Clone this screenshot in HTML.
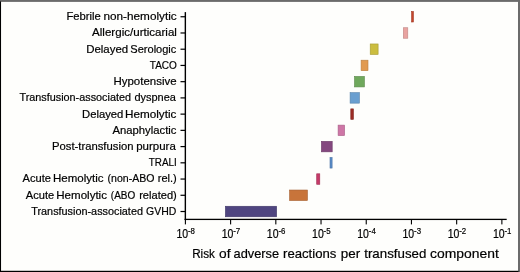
<!DOCTYPE html>
<html><head><meta charset="utf-8"><title>Risk of adverse reactions per transfused component</title>
<style>
html,body{margin:0;padding:0;background:#fefefc;}
body{width:520px;height:272px;overflow:hidden;}
svg{display:block;will-change:transform;}
text{font-family:"Liberation Sans",sans-serif;fill:#000;stroke:#000;stroke-width:0.2px;}
.yl{font-size:11.4px;}
.xl{font-size:12.0px;}
.sup{font-size:9.4px;}
.ttl{font-size:13.6px;}
</style></head><body>
<svg width="520" height="272" viewBox="0 0 520 272">
<rect x="0" y="0" width="520" height="272" fill="#fefefc"/>
<rect x="0" y="0" width="520" height="1.9" fill="#6b6b6b"/>
<rect x="518" y="0" width="2" height="272" fill="#6b6b6b"/>
<rect x="0" y="1.4" width="1.04" height="270.6" fill="#000"/>
<rect x="0" y="270.78" width="518.5" height="1.22" fill="#000"/>

<rect x="411.60" y="11.50" width="1.80" height="10.50" fill="#c5452b" stroke="#a13823" stroke-width="0.6"/>
<rect x="403.30" y="27.73" width="4.50" height="10.50" fill="#e9a3a0" stroke="#bf8583" stroke-width="0.6"/>
<rect x="370.20" y="43.96" width="7.90" height="10.50" fill="#cbbd3f" stroke="#a69a33" stroke-width="0.6"/>
<rect x="361.10" y="60.19" width="6.90" height="10.50" fill="#e19a50" stroke="#b87e41" stroke-width="0.6"/>
<rect x="354.50" y="76.42" width="9.90" height="10.50" fill="#6fa85c" stroke="#5b894b" stroke-width="0.6"/>
<rect x="350.10" y="92.65" width="9.30" height="10.50" fill="#6a9fd0" stroke="#5682aa" stroke-width="0.6"/>
<rect x="350.80" y="108.88" width="2.60" height="10.50" fill="#9c2c25" stroke="#7f241e" stroke-width="0.6"/>
<rect x="338.10" y="125.11" width="6.50" height="10.50" fill="#ce76a6" stroke="#a86088" stroke-width="0.6"/>
<rect x="321.40" y="141.34" width="10.80" height="10.50" fill="#84487f" stroke="#6c3b68" stroke-width="0.6"/>
<rect x="330.00" y="157.57" width="2.10" height="10.50" fill="#5a8cc8" stroke="#4972a4" stroke-width="0.6"/>
<rect x="316.70" y="173.80" width="3.10" height="10.50" fill="#c53a68" stroke="#a12f55" stroke-width="0.6"/>
<rect x="289.60" y="190.03" width="17.80" height="10.50" fill="#c8743a" stroke="#a45f2f" stroke-width="0.6"/>
<rect x="225.40" y="206.26" width="51.20" height="10.50" fill="#4f4580" stroke="#403868" stroke-width="0.6"/>
<rect x="184.65" y="12.1" width="1.4" height="207.95" fill="#000"/>
<rect x="184.65" y="218.75" width="322.05" height="1.3" fill="#000"/>
<rect x="180.5" y="16.15" width="5" height="1.2" fill="#000"/>
<rect x="180.5" y="32.38" width="5" height="1.2" fill="#000"/>
<rect x="180.5" y="48.61" width="5" height="1.2" fill="#000"/>
<rect x="180.5" y="64.84" width="5" height="1.2" fill="#000"/>
<rect x="180.5" y="81.07" width="5" height="1.2" fill="#000"/>
<rect x="180.5" y="97.30" width="5" height="1.2" fill="#000"/>
<rect x="180.5" y="113.53" width="5" height="1.2" fill="#000"/>
<rect x="180.5" y="129.76" width="5" height="1.2" fill="#000"/>
<rect x="180.5" y="145.99" width="5" height="1.2" fill="#000"/>
<rect x="180.5" y="162.22" width="5" height="1.2" fill="#000"/>
<rect x="180.5" y="178.45" width="5" height="1.2" fill="#000"/>
<rect x="180.5" y="194.68" width="5" height="1.2" fill="#000"/>
<rect x="180.5" y="210.91" width="5" height="1.2" fill="#000"/>
<rect x="184.85" y="219" width="1.1" height="5.4" fill="#000"/>
<rect x="230.06" y="219" width="1.1" height="5.4" fill="#000"/>
<rect x="275.27" y="219" width="1.1" height="5.4" fill="#000"/>
<rect x="320.48" y="219" width="1.1" height="5.4" fill="#000"/>
<rect x="365.69" y="219" width="1.1" height="5.4" fill="#000"/>
<rect x="410.90" y="219" width="1.1" height="5.4" fill="#000"/>
<rect x="456.11" y="219" width="1.1" height="5.4" fill="#000"/>
<rect x="501.32" y="219" width="1.1" height="5.4" fill="#000"/>
<text class="yl" y="20.15"><tspan x="66.41" textLength="34.41" lengthAdjust="spacingAndGlyphs">Febrile</tspan> <tspan x="103.48" textLength="73.21" lengthAdjust="spacingAndGlyphs">non-hemolytic</tspan></text>
<text class="yl" y="36.38"><tspan x="92.10" textLength="84.82" lengthAdjust="spacingAndGlyphs">Allergic/urticarial</tspan></text>
<text class="yl" y="52.61"><tspan x="86.20" textLength="42.01" lengthAdjust="spacingAndGlyphs">Delayed</tspan> <tspan x="130.32" textLength="46.03" lengthAdjust="spacingAndGlyphs">Serologic</tspan></text>
<text class="yl" y="68.84"><tspan x="149.78" textLength="27.10" lengthAdjust="spacingAndGlyphs">TACO</tspan></text>
<text class="yl" y="85.07"><tspan x="113.49" textLength="63.05" lengthAdjust="spacingAndGlyphs">Hypotensive</tspan></text>
<text class="yl" y="101.30"><tspan x="19.46" textLength="111.50" lengthAdjust="spacingAndGlyphs">Transfusion-associated</tspan> <tspan x="134.42" textLength="41.46" lengthAdjust="spacingAndGlyphs">dyspnea</tspan></text>
<text class="yl" y="117.53"><tspan x="82.01" textLength="41.38" lengthAdjust="spacingAndGlyphs">Delayed</tspan> <tspan x="124.97" textLength="51.40" lengthAdjust="spacingAndGlyphs">Hemolytic</tspan></text>
<text class="yl" y="133.76"><tspan x="112.50" textLength="63.94" lengthAdjust="spacingAndGlyphs">Anaphylactic</tspan></text>
<text class="yl" y="149.99"><tspan x="52.01" textLength="81.45" lengthAdjust="spacingAndGlyphs">Post-transfusion</tspan> <tspan x="136.24" textLength="39.57" lengthAdjust="spacingAndGlyphs">purpura</tspan></text>
<text class="yl" y="166.22"><tspan x="148.78" textLength="27.91" lengthAdjust="spacingAndGlyphs">TRALI</tspan></text>
<text class="yl" y="182.45"><tspan x="22.60" textLength="28.38" lengthAdjust="spacingAndGlyphs">Acute</tspan> <tspan x="52.99" textLength="50.58" lengthAdjust="spacingAndGlyphs">Hemolytic</tspan> <tspan x="107.50" textLength="46.97" lengthAdjust="spacingAndGlyphs">(non-ABO</tspan> <tspan x="157.77" textLength="19.03" lengthAdjust="spacingAndGlyphs">rel.)</tspan></text>
<text class="yl" y="198.68"><tspan x="25.80" textLength="28.38" lengthAdjust="spacingAndGlyphs">Acute</tspan> <tspan x="56.29" textLength="50.68" lengthAdjust="spacingAndGlyphs">Hemolytic</tspan> <tspan x="110.84" textLength="24.39" lengthAdjust="spacingAndGlyphs">(ABO</tspan> <tspan x="139.17" textLength="37.64" lengthAdjust="spacingAndGlyphs">related)</tspan></text>
<text class="yl" y="214.91"><tspan x="31.26" textLength="111.70" lengthAdjust="spacingAndGlyphs">Transfusion-associated</tspan> <tspan x="146.04" textLength="30.25" lengthAdjust="spacingAndGlyphs">GVHD</tspan></text>
<text><tspan class="xl" x="176.43" y="238.2" textLength="11.69" lengthAdjust="spacingAndGlyphs">10</tspan><tspan class="sup" x="187.98" y="234.0" textLength="7.01" lengthAdjust="spacingAndGlyphs">-8</tspan></text>
<text><tspan class="xl" x="221.64" y="238.2" textLength="11.69" lengthAdjust="spacingAndGlyphs">10</tspan><tspan class="sup" x="233.19" y="234.0" textLength="7.01" lengthAdjust="spacingAndGlyphs">-7</tspan></text>
<text><tspan class="xl" x="266.85" y="238.2" textLength="11.69" lengthAdjust="spacingAndGlyphs">10</tspan><tspan class="sup" x="278.40" y="234.0" textLength="7.01" lengthAdjust="spacingAndGlyphs">-6</tspan></text>
<text><tspan class="xl" x="312.06" y="238.2" textLength="11.69" lengthAdjust="spacingAndGlyphs">10</tspan><tspan class="sup" x="323.61" y="234.0" textLength="7.01" lengthAdjust="spacingAndGlyphs">-5</tspan></text>
<text><tspan class="xl" x="357.26" y="238.2" textLength="11.69" lengthAdjust="spacingAndGlyphs">10</tspan><tspan class="sup" x="368.82" y="234.0" textLength="7.01" lengthAdjust="spacingAndGlyphs">-4</tspan></text>
<text><tspan class="xl" x="402.48" y="238.2" textLength="11.69" lengthAdjust="spacingAndGlyphs">10</tspan><tspan class="sup" x="414.03" y="234.0" textLength="7.01" lengthAdjust="spacingAndGlyphs">-3</tspan></text>
<text><tspan class="xl" x="447.69" y="238.2" textLength="11.69" lengthAdjust="spacingAndGlyphs">10</tspan><tspan class="sup" x="459.24" y="234.0" textLength="7.01" lengthAdjust="spacingAndGlyphs">-2</tspan></text>
<text><tspan class="xl" x="492.90" y="238.2" textLength="11.69" lengthAdjust="spacingAndGlyphs">10</tspan><tspan class="sup" x="504.45" y="234.0" textLength="7.01" lengthAdjust="spacingAndGlyphs">-1</tspan></text>
<text class="ttl" y="257.6"><tspan x="192.14" textLength="22.81" lengthAdjust="spacingAndGlyphs">Risk</tspan> <tspan x="219.00" textLength="11.45" lengthAdjust="spacingAndGlyphs">of</tspan> <tspan x="233.53" textLength="45.56" lengthAdjust="spacingAndGlyphs">adverse</tspan> <tspan x="283.03" textLength="53.38" lengthAdjust="spacingAndGlyphs">reactions</tspan> <tspan x="340.76" textLength="19.39" lengthAdjust="spacingAndGlyphs">per</tspan> <tspan x="364.26" textLength="62.06" lengthAdjust="spacingAndGlyphs">transfused</tspan> <tspan x="430.09" textLength="68.68" lengthAdjust="spacingAndGlyphs">component</tspan></text>
</svg></body></html>
